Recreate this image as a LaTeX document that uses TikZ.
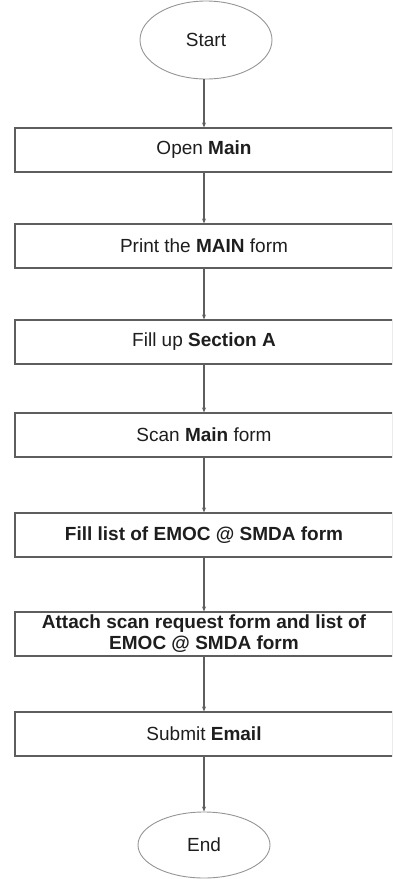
\documentclass[tikz,border=0pt]{standalone}
\usepackage{fontspec}
\setmainfont{Liberation Sans}
\usetikzlibrary{shapes.geometric,arrows.meta}
\definecolor{edge}{HTML}{5E5E5E}
\definecolor{ink}{HTML}{1E1E1E}
\definecolor{rim}{HTML}{959595}
\tikzset{
  stepbox/.style={draw=edge, line width=1.1pt, minimum width=378pt, minimum height=44pt,
    inner sep=0pt, align=center, text=ink, font=\fontsize{19}{22}\selectfont},
  terminal/.style={draw=rim, line width=0.9pt, ellipse, inner sep=0pt, text=ink,
    font=\fontsize{19}{22}\selectfont},
  flow/.style={draw=edge, line width=1.1pt, -{Stealth[length=5pt,width=4pt]}}
}
\begin{document}
\begin{tikzpicture}[x=1pt,y=1pt]
  \useasboundingbox (0,0) rectangle (392,-879);
  \clip (0,0) rectangle (392,-879);
  \node[terminal, minimum width=132pt, minimum height=78pt] (start) at (206,-40) {Start};
  \node[stepbox] (s1) at (204,-150) {Open \textbf{Main}};
  \node[stepbox] (s2) at (204,-246) {Print the \textbf{MAIN} form};
  \node[stepbox] (s3) at (204,-342) {Fill up \textbf{Section A}};
  \node[stepbox] (s4) at (204,-435) {Scan \textbf{Main} form};
  \node[stepbox] (s5) at (204,-535) {\textbf{Fill list of EMOC @ SMDA form}};
  \node[stepbox] (s6) at (204,-634) {\textbf{Attach scan request form and list of}\\[-1pt]\textbf{EMOC @ SMDA form}};
  \node[stepbox] (s7) at (204,-734) {Submit \textbf{Email}};
  \node[terminal, minimum width=132pt, minimum height=66pt] (end) at (204,-845) {End};
  \draw[flow] (start.south -| s1.north) -- (s1.north);
  \draw[flow] (s1) -- (s2);
  \draw[flow] (s2) -- (s3);
  \draw[flow] (s3) -- (s4);
  \draw[flow] (s4) -- (s5);
  \draw[flow] (s5) -- (s6);
  \draw[flow] (s6) -- (s7);
  \draw[flow] (s7) -- (end);
\end{tikzpicture}
\end{document}
